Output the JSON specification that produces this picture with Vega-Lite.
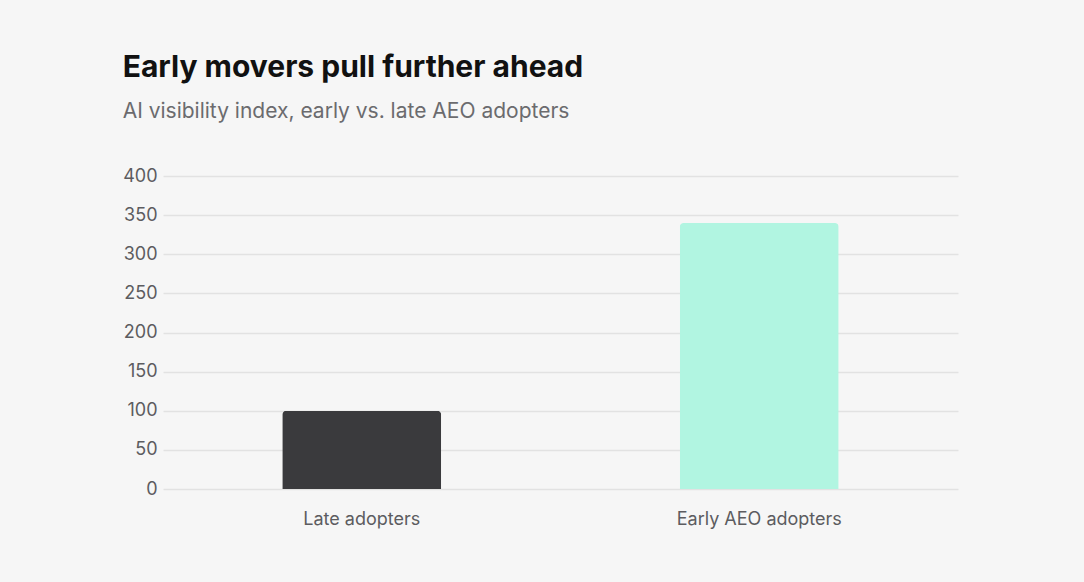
{
  "$schema": "https://vega.github.io/schema/vega-lite/v6.json",
  "description": "AI visibility index, early vs. late AEO adopters",
  "width": 1084,
  "height": 582,
  "autosize": {"type": "fit", "contains": "padding"},
  "padding": {"left": 122, "top": 53, "right": 126, "bottom": 54},
  "background": "#f6f6f6",
  "title": {
    "text": "Early movers pull further ahead",
    "subtitle": "AI visibility index, early vs. late AEO adopters",
    "anchor": "start",
    "frame": "bounds",
    "font": "Inter",
    "fontSize": 30,
    "fontWeight": 700,
    "color": "#111111",
    "subtitleFont": "Inter",
    "subtitleFontSize": 21,
    "subtitleColor": "#6b6b6e",
    "subtitlePadding": 18,
    "offset": 45
  },
  "data": {
    "values": [
      {"group": "Late adopters", "index": 100},
      {"group": "Early AEO adopters", "index": 340}
    ]
  },
  "mark": {"type": "bar", "cornerRadiusTopLeft": 4, "cornerRadiusTopRight": 4},
  "encoding": {
    "x": {
      "field": "group",
      "type": "nominal",
      "sort": null,
      "title": null,
      "scale": {"paddingInner": 0.6, "paddingOuter": 0.3},
      "axis": {
        "labelAngle": 0,
        "labelFont": "Inter",
        "labelFontSize": 18,
        "labelColor": "#5c5c60",
        "labelPadding": 21,
        "ticks": false,
        "domain": false
      }
    },
    "y": {
      "field": "index",
      "type": "quantitative",
      "title": null,
      "scale": {"domain": [0, 400]},
      "axis": {
        "values": [0, 50, 100, 150, 200, 250, 300, 350, 400],
        "labelFont": "Inter",
        "labelFontSize": 18,
        "labelColor": "#5c5c60",
        "labelPadding": 6,
        "ticks": false,
        "domain": false,
        "gridColor": "#e2e2e2",
        "gridWidth": 1.5
      }
    },
    "color": {
      "field": "group",
      "type": "nominal",
      "scale": {"domain": ["Late adopters", "Early AEO adopters"], "range": ["#3a3a3d", "#b1f5e1"]},
      "legend": null
    }
  },
  "config": {"view": {"stroke": null}}
}
